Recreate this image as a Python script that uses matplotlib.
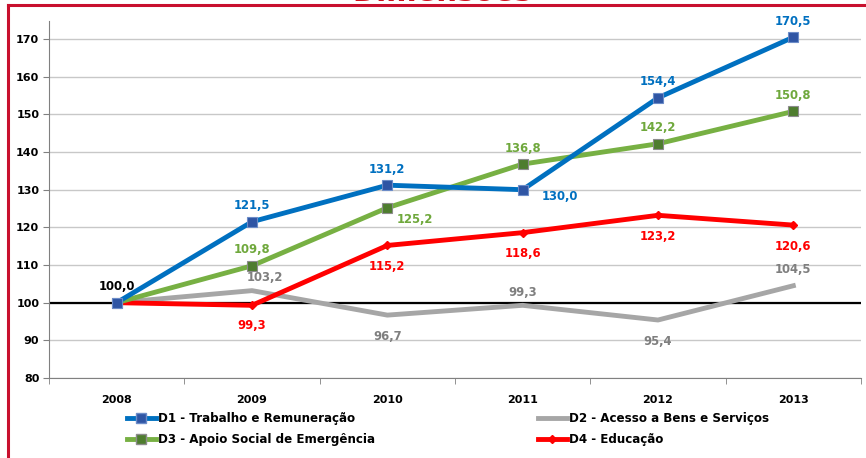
import matplotlib.pyplot as plt
from matplotlib.lines import Line2D

# ── Data ──────────────────────────────────────────────────────────────────────
years = ["2008", "2009", "2010", "2011", "2012", "2013"]
d1 = [100.0, 121.5, 131.2, 130.0, 154.4, 170.5]
d2 = [100.0, 103.2, 96.7, 99.3, 95.4, 104.5]
d3 = [100.0, 109.8, 125.2, 136.8, 142.2, 150.8]
d4 = [100.0, 99.3, 115.2, 118.6, 123.2, 120.6]
y_ticks = [80, 90, 100, 110, 120, 130, 140, 150, 160, 170]

names = ["D1 - Trabalho e Remuneração", "D2 - Acesso a Bens e Serviços",
         "D3 - Apoio Social de Emergência", "D4 - Educação"]

# label offsets in pixels (dx, dy) per point; None = no label
off_d1 = [None, (0, 16), (0, 16), (37, -7), (0, 16), (0, 16)]
off_d2 = [None, (13, 13), (0, -21), (0, 13), (0, -21), (0, 16)]
off_d3 = [None, (0, 16), (28, -12), (0, 16), (0, 16), (0, 16)]
off_d4 = [None, (0, -20), (0, -21), (0, -21), (0, -21), (0, -21)]

C_BLUE = "#0070C0"
C_GREY = "#A6A6A6"
C_GREEN = "#77B043"
C_RED = "#FF0000"

fig = plt.figure(figsize=(8.66, 4.58), dpi=100)
ax = fig.add_axes([49 / 866, 1 - 378 / 458, 812 / 866, 357 / 458])

x = list(range(len(years)))
ax.plot(x, d2, color=C_GREY, lw=3.5, zorder=3)
ax.plot(x, d4, color=C_RED, lw=3.5, marker="D", ms=4.5, mfc=C_RED, mec=C_RED, zorder=4)
ax.plot(x, d3, color=C_GREEN, lw=3.5, marker="s", ms=7, mfc="#4E7D2E", mec="#8C8C8C",
        mew=0.8, zorder=5)
ax.plot(x, d1, color=C_BLUE, lw=3.5, marker="s", ms=7, mfc="#2F55A4", mec="#6C8CC8",
        mew=0.8, zorder=6)
ax.axhline(100, color="black", lw=1.6, zorder=2)

for vals, offs, col in [(d1, off_d1, C_BLUE), (d2, off_d2, "#7F7F7F"),
                        (d3, off_d3, "#6FA83C"), (d4, off_d4, C_RED)]:
    for i, (v, o) in enumerate(zip(vals, offs)):
        if o is None:
            continue
        ax.annotate(f"{v:.1f}".replace(".", ","), (i, v), xytext=o,
                    textcoords="offset pixels", ha="center", va="center",
                    color=col, fontsize=8.4, fontweight="bold", zorder=7)
ax.annotate("100,0", (0, 100), xytext=(0, 16), textcoords="offset pixels",
            ha="center", va="center", color="black", fontsize=8.4, fontweight="bold")

ax.set_xlim(-0.5, len(years) - 0.5)
ax.set_ylim(80, 174.8)
ax.set_yticks(y_ticks)
ax.set_yticklabels([str(t) for t in y_ticks], fontsize=8, fontweight="bold")
ax.set_xticks(x)
ax.set_xticklabels(years, fontsize=8, fontweight="bold")
ax.set_xticks([i - 0.5 for i in range(len(years) + 1)], minor=True)
ax.tick_params(axis="x", which="major", length=0, pad=12)
ax.tick_params(axis="x", which="minor", length=4, color="#808080", direction="out")
ax.tick_params(axis="y", length=4, color="#808080", direction="out", pad=3)
ax.grid(axis="y", color="#C8C8C8", lw=1)
ax.set_axisbelow(True)
for s in ["top", "right"]:
    ax.spines[s].set_visible(False)
for s in ["left", "bottom"]:
    ax.spines[s].set_color("#808080")

h_d1 = Line2D([], [], color=C_BLUE, lw=3.5, marker="s", ms=7, mfc="#2F55A4", mec="#6C8CC8")
h_d2 = Line2D([], [], color=C_GREY, lw=3.5)
h_d3 = Line2D([], [], color=C_GREEN, lw=3.5, marker="s", ms=7, mfc="#4E7D2E", mec="#8C8C8C")
h_d4 = Line2D([], [], color=C_RED, lw=3.5, marker="D", ms=4.5, mfc=C_RED, mec=C_RED)

# two legends, one per column
leg_kw = dict(loc="upper left", frameon=False, prop={"size": 8.6, "weight": "bold"},
              handlelength=2.4, handletextpad=0.2, labelspacing=0.7, borderpad=0,
              borderaxespad=0)
leg1 = fig.legend([h_d1, h_d3], [names[0], names[2]],
                  bbox_to_anchor=(127 / 866, 1 - 412 / 458), **leg_kw)
leg2 = fig.legend([h_d2, h_d4], [names[1], names[3]],
                  bbox_to_anchor=(538 / 866, 1 - 412 / 458), **leg_kw)

# title (cut off at top) and red frame
fig.text(442 / 866, 1 - 1 / 458, "Dimensões", color="#D0101E", fontsize=21,
         fontweight="bold", ha="center", va="baseline")
fig.add_artist(Line2D([8 / 866, 8 / 866], [0, 1 - 5 / 458], color="#C8102E", lw=2.2,
                      transform=fig.transFigure))
fig.add_artist(Line2D([8 / 866, 1], [1 - 5 / 458, 1 - 5 / 458], color="#C8102E", lw=2.2,
                      transform=fig.transFigure))

fig.savefig("out.png", dpi=100)
